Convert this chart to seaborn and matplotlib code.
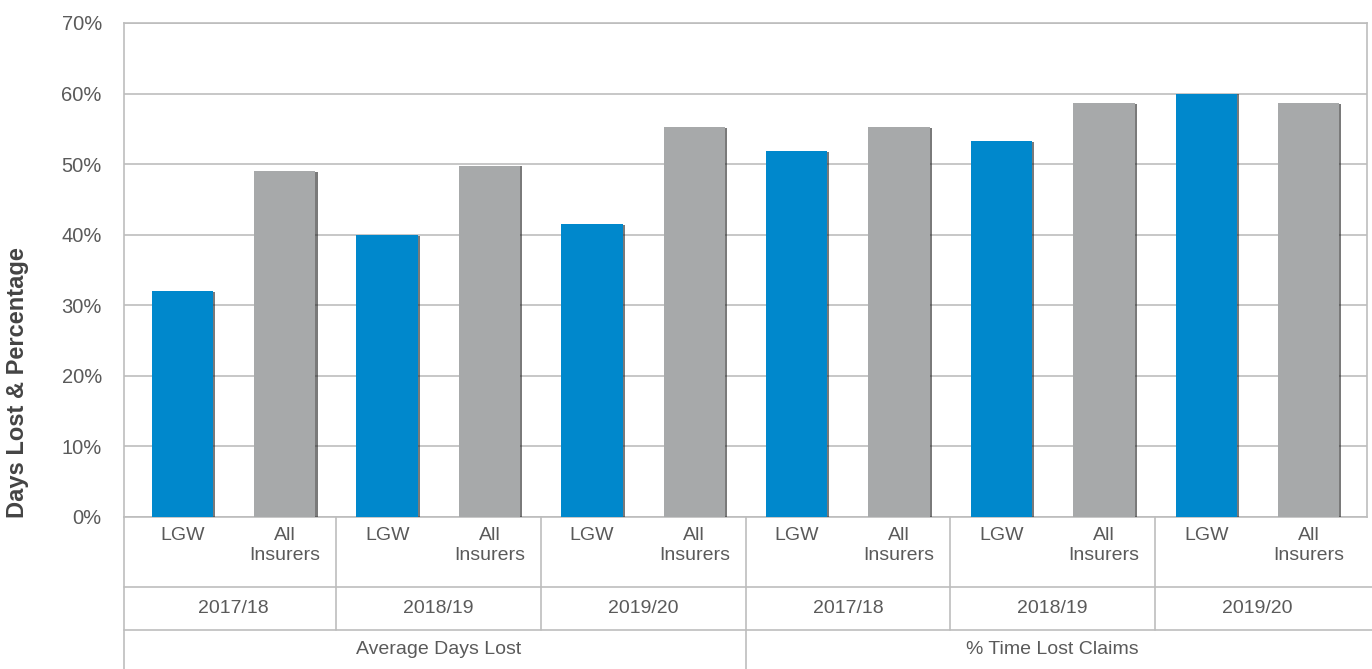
import matplotlib
matplotlib.use("Agg")
import matplotlib.pyplot as plt
import matplotlib.patheffects as pe
import matplotlib.transforms as mtransforms
import numpy as np
import pandas as pd
import seaborn as sns

# data
measures = ["Average Days Lost", "% Time Lost Claims"]
years = ["2017/18", "2018/19", "2019/20"]
insurers = ["LGW", "All\nInsurers"]
avg_days_lost = [32.0, 49.0, 40.0, 49.8, 41.5, 55.2]      # LGW, All per year
time_lost_claims = [51.8, 55.2, 53.3, 58.7, 60.0, 58.7]
y_ticks = [0, 10, 20, 30, 40, 50, 60, 70]

blue = "#0088cc"
grey = "#a7a9aa"
text_col = "#5a5a5a"
line_col = "#bdbdbd"

rows = []
for m, vals in zip(measures, [avg_days_lost, time_lost_claims]):
    for k, v in enumerate(vals):
        yr = years[k // 2]
        ins = insurers[k % 2]
        rows.append({"key": f"{m}|{yr}|{ins}", "measure": m, "year": yr,
                     "insurer": ins, "value": v})
df = pd.DataFrame(rows)

sns.set_style("white")
plt.rcParams["font.family"] = ["Liberation Sans", "DejaVu Sans"]

fig = plt.figure(figsize=(13.72, 6.69), dpi=100)
W, H = 1372, 669
ax = fig.add_axes([124 / W, 1 - 517 / H, (1367 - 124) / W, (517 - 23) / H])

sns.barplot(data=df, x="key", y="value", hue="insurer", order=list(df["key"]),
            palette={insurers[0]: blue, insurers[1]: grey}, dodge=False,
            width=0.6, legend=False, ax=ax, saturation=1, linewidth=0)

shadow = [pe.SimplePatchShadow(offset=(1.5, -0.6), shadow_rgbFace="#222222", alpha=0.6),
          pe.Normal()]
for p in ax.patches:
    p.set_path_effects(shadow)
    p.set_zorder(3)

ax.set_xlim(-0.57, 11.57)
ax.set_ylim(0, 70)
ax.set_yticks(y_ticks)
ax.set_yticklabels([f"{t}%" for t in y_ticks], color=text_col, fontsize=14.5)
ax.tick_params(axis="y", length=0, pad=16)
ax.set_xticks([])
ax.set_xlabel("")
ax.set_ylabel("")
ax.yaxis.grid(True, color=line_col, linewidth=1.2)
ax.set_axisbelow(True)
for s in ax.spines.values():
    s.set_color(line_col)
    s.set_linewidth(1.2)

# category table under the axis
trans = mtransforms.blended_transform_factory(ax.transData, ax.transAxes)
axh = 517 - 23
r1 = -(587 - 517) / axh
r2 = -(630 - 517) / axh
r3 = -(669 - 517) / axh
xr = 1.0 + 6 / (1367 - 124)
kw = dict(color=line_col, linewidth=1.2, clip_on=False)
ax.plot([0, xr], [r1, r1], transform=ax.transAxes, **kw)
ax.plot([0, xr], [r2, r2], transform=ax.transAxes, **kw)
ax.plot([0, 0], [0, r3], transform=ax.transAxes, **kw)
for xb in [1.5, 3.5, 7.5, 9.5]:
    ax.plot([xb, xb], [0, r2], transform=trans, **kw)
ax.plot([5.5, 5.5], [0, r3], transform=trans, **kw)

for i, row in df.iterrows():
    ax.text(i, -10 / axh, row["insurer"], transform=trans, ha="center", va="top",
            color=text_col, fontsize=14, linespacing=1.25)
for j in range(6):
    ax.text(2 * j + 0.5, (r1 + r2) / 2, years[j % 3], transform=trans,
            ha="center", va="center", color=text_col, fontsize=14)
for j, m in enumerate(measures):
    ax.text(6 * j + 2.5, (r2 + r3) / 2, m, transform=trans,
            ha="center", va="center", color=text_col, fontsize=14)

fig.text(18 / W, 1 - 383 / H, "Days Lost & Percentage", rotation=90,
         ha="center", va="center", fontsize=17, fontweight="bold", color="#444444")

fig.savefig("out.png", dpi=100)
